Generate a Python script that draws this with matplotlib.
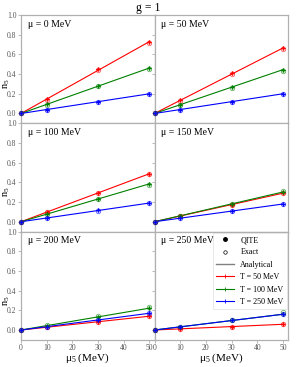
import matplotlib
matplotlib.use("Agg")
import matplotlib.pyplot as plt
from matplotlib.lines import Line2D
import numpy as np

plt.rcParams['font.family'] = ['Liberation Serif', 'DejaVu Serif']
plt.rcParams['mathtext.fontset'] = 'custom'
plt.rcParams['mathtext.rm'] = 'Liberation Serif'
plt.rcParams['mathtext.it'] = 'Liberation Serif:italic'

# ---- data ----
mu5 = [0, 10, 30, 50]
mu_values = [0, 50, 100, 150, 200, 250]
temps = ["T = 50 MeV", "T = 100 MeV", "T = 250 MeV"]
colors = ["red", "green", "blue"]

# QITE values per panel (rows: T=50, T=100, T=250)
qite_mu0 = [[0, 0.146, 0.455, 0.73], [0, 0.093, 0.28, 0.462], [0, 0.040, 0.120, 0.200]]
qite_mu50 = [[0, 0.135, 0.41, 0.665], [0, 0.090, 0.27, 0.445], [0, 0.040, 0.120, 0.200]]
qite_mu100 = [[0, 0.098, 0.293, 0.488], [0, 0.077, 0.232, 0.385], [0, 0.037, 0.115, 0.190]]
qite_mu150 = [[0, 0.058, 0.172, 0.290], [0, 0.060, 0.180, 0.302], [0, 0.035, 0.108, 0.180]]
qite_mu200 = [[0, 0.028, 0.083, 0.140], [0, 0.045, 0.133, 0.222], [0, 0.035, 0.103, 0.170]]
qite_mu250 = [[0, 0.012, 0.035, 0.058], [0, 0.032, 0.098, 0.160], [0, 0.032, 0.098, 0.160]]

exact_mu0 = [[0, 0.140, 0.438, 0.712], [0, 0.090, 0.275, 0.450], [0, 0.040, 0.118, 0.198]]
exact_mu50 = [[0, 0.130, 0.400, 0.650], [0, 0.088, 0.262, 0.432], [0, 0.040, 0.118, 0.198]]
exact_mu100 = [[0, 0.096, 0.290, 0.482], [0, 0.075, 0.228, 0.378], [0, 0.037, 0.113, 0.188]]
exact_mu150 = [[0, 0.057, 0.172, 0.288], [0, 0.062, 0.185, 0.310], [0, 0.035, 0.107, 0.178]]
exact_mu200 = [[0, 0.027, 0.082, 0.138], [0, 0.047, 0.140, 0.232], [0, 0.034, 0.102, 0.168]]
exact_mu250 = [[0, 0.012, 0.035, 0.058], [0, 0.034, 0.105, 0.178], [0, 0.032, 0.098, 0.160]]

analytical_end = [[0.73, 0.462, 0.200], [0.665, 0.445, 0.200], [0.488, 0.385, 0.190],
                  [0.290, 0.302, 0.180], [0.140, 0.222, 0.170], [0.058, 0.160, 0.160]]

qite_all = [qite_mu0, qite_mu50, qite_mu100, qite_mu150, qite_mu200, qite_mu250]
exact_all = [exact_mu0, exact_mu50, exact_mu100, exact_mu150, exact_mu200, exact_mu250]

xticks = [0, 10, 20, 30, 40, 50]
yticks = [0.0, 0.2, 0.4, 0.6, 0.8, 1.0]

fig = plt.figure(figsize=(2.96, 3.67), dpi=100)
gs = fig.add_gridspec(3, 2, left=0.071, right=0.973, top=0.959, bottom=0.074,
                      wspace=0, hspace=0)

spine_c = '#b0b0b0'
for i, mu in enumerate(mu_values):
    r, c = divmod(i, 2)
    ax = fig.add_subplot(gs[r, c])
    for k in range(3):
        ax.plot([mu5[0], mu5[-1]], [0, analytical_end[i][k]], color=colors[k], lw=0.8, zorder=2)
        ax.plot(mu5, exact_all[i][k], ls='none', marker='o', ms=3.2, mfc='none',
                mec=colors[k], mew=0.6, alpha=0.6, zorder=3, clip_on=False)
        ax.plot(mu5, qite_all[i][k], ls='none', marker='P', ms=3.2, color=colors[k],
                mew=0, zorder=4, clip_on=False)
    ax.set_xlim(0, 52)
    ax.set_ylim(-0.1, 1.0)
    ax.set_xticks(xticks)
    ax.set_yticks(yticks)
    for s in ax.spines.values():
        s.set_color(spine_c)
        s.set_linewidth(0.9)
    ax.tick_params(labelsize=5.5, length=2, width=0.6, color=spine_c, labelcolor='#555555', pad=1.2)
    if c == 0:
        ax.set_ylabel(r'n$_5$', fontsize=7.5)
        ax.yaxis.set_label_coords(-0.07, 0.365)
    else:
        ax.tick_params(labelleft=False)
    if r == 2:
        ax.set_xlabel(r'μ$_5$ (MeV)', fontsize=8, labelpad=-0.5)
    else:
        ax.tick_params(labelbottom=False)
    ax.text(0.05, 0.915, f"μ = {mu} MeV", transform=ax.transAxes, fontsize=7,
            va='center', ha='left')
    if i == 5:
        handles = [
            Line2D([], [], ls='none', marker='o', ms=2.5, color='black'),
            Line2D([], [], ls='none', marker='o', ms=2.5, mfc='none', mec='black', mew=0.5),
            Line2D([], [], color='gray', lw=1.0),
        ] + [Line2D([], [], color=colors[k], lw=0.8, marker='+', ms=3, mew=0.6) for k in range(3)]
        labels = ["QITE", "Exact", "Analytical"] + temps
        leg = ax.legend(handles, labels, loc='upper right', fontsize=5.8, frameon=True,
                        borderpad=0.4, labelspacing=0.55, handlelength=2.2,
                        borderaxespad=0.15, fancybox=False)
        leg.get_frame().set_edgecolor('#dddddd')
        leg.get_frame().set_linewidth(0.6)

fig.suptitle("g = 1", fontsize=8.5, y=0.995)
fig.savefig("out.png", dpi=100)
